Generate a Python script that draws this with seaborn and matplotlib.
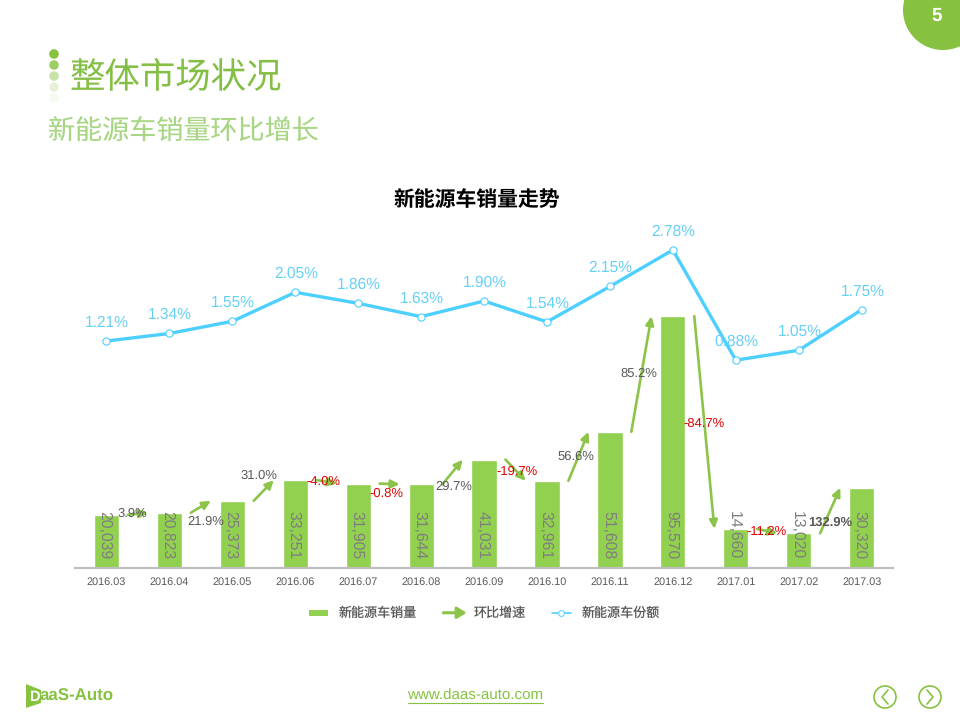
import matplotlib
matplotlib.use("Agg")
import matplotlib.pyplot as plt
import seaborn as sns
from matplotlib.patches import Circle, Ellipse, FancyArrowPatch, Patch, Polygon, Rectangle
from matplotlib.lines import Line2D
from matplotlib.legend_handler import HandlerPatch

months = ["2016.03", "2016.04", "2016.05", "2016.06", "2016.07", "2016.08", "2016.09",
          "2016.10", "2016.11", "2016.12", "2017.01", "2017.02", "2017.03"]
sales = [20039, 20823, 25373, 33251, 31905, 31644, 41031, 32961, 51608, 95570, 14660, 13020, 30320]
share = [1.21, 1.34, 1.55, 2.05, 1.86, 1.63, 1.90, 1.54, 2.15, 2.78, 0.88, 1.05, 1.75]
growth = ["3.9%", "21.9%", "31.0%", "-4.0%", "-0.8%", "29.7%", "-19.7%", "56.6%", "85.2%",
          "-84.7%", "-11.2%", "132.9%"]
growth_label_px = [(132, 514), (206, 522), (259, 476), (323, 482), (386, 494), (454, 487),
                   (517, 472), (576, 457), (639, 374), (704, 424), (767, 532), (830, 523)]

W, H = 960, 720
GREEN = "#92D050"
ARROW = "#8CC449"
BRAND = "#86C240"
BLUE = "#4DCFFF"
BLUE_TXT = "#66D0F5"
CJK = ["Noto Sans CJK SC", "DejaVu Sans"]
LATIN = ["Liberation Sans", "DejaVu Sans"]

sns.set_theme(style="white")
plt.rcParams["font.family"] = LATIN
plt.rcParams["text.hinting"] = "no_hinting"

fig = plt.figure(figsize=(W / 100, H / 100), dpi=100, facecolor="white")


def box(x0, y0, x1, y1):
    return [x0 / W, 1 - y1 / H, (x1 - x0) / W, (y1 - y0) / H]


# page furniture in pixel coordinates
page = fig.add_axes([0, 0, 1, 1], zorder=0)
page.set_xlim(0, W)
page.set_ylim(H, 0)
page.axis("off")
page.add_patch(Circle((943, 10), 40, color=BRAND, lw=0))
page.text(937, 16, "5", color="white", fontsize=13.5, fontweight="bold", ha="center", va="center")
for yy, a in zip([54, 65, 76, 87, 98], [1, .8, .45, .2, .08]):
    page.add_patch(Circle((54, yy), 4.8, color=BRAND, alpha=a, lw=0))
page.text(70, 77, "整体市场状况", color="#84BF45", fontsize=25.5, family=CJK, ha="left", va="center")
page.text(48, 132, "新能源车销量环比增长", color="#A8D684", fontsize=19.5, family=CJK, ha="left", va="center")
page.text(477, 200, "新能源车销量走势", color="black", fontsize=15, fontweight="bold", family=CJK,
          ha="center", va="center")

# footer
page.add_patch(Polygon([(26, 684), (41, 690), (41, 703), (26, 708)], color=BRAND, lw=0))
page.text(29.5, 697, "D", color="white", fontsize=10.5, fontweight="bold", ha="left", va="center")
page.text(39.5, 696.5, "aaS-Auto", color=BRAND, fontsize=12.2, fontweight="bold", ha="left", va="center")
page.text(475.5, 696, "www.daas-auto.com", color=BRAND, fontsize=10.9, ha="center", va="center")
page.plot([408, 543], [702.5, 702.5], color=BRAND, lw=0.8)
for cx, sgn in [(885, -1), (930, 1)]:
    page.add_patch(Ellipse((cx, 697), 22, 22, fc="none", ec=BRAND, lw=1.2))
    page.plot([cx - 3 * sgn, cx + 3 * sgn, cx - 3 * sgn], [690, 697, 704], color=BRAND, lw=1.2)

# chart
ax = fig.add_axes(box(75, 225.6, 892.5, 567.5), zorder=1)
ax.patch.set_alpha(0)
sns.barplot(x=months, y=sales, color=GREEN, saturation=1, width=0.4, ax=ax, zorder=2)
ax.set_xlim(-0.5, 12.49)
ax.set_ylim(0, 130000)
ax.set_yticks([])
ax.set_ylabel("")
sns.despine(ax=ax, left=True, top=True, right=True)
ax.spines["bottom"].set_color("#BFBFBF")
ax.spines["bottom"].set_linewidth(1.6)
ax.tick_params(axis="x", length=0, pad=6.5, labelsize=7.8, labelcolor="#595959")

for i, v in enumerate(sales):
    ax.annotate(f"{v:,}", xy=(i, 0), xytext=(-1.2, 6), textcoords="offset points", rotation=270,
                ha="center", va="bottom", fontsize=11.3, color="#7F7F7F", zorder=3)

# month-on-month arrows between bar tops
for i in range(len(sales) - 1):
    ax.add_patch(FancyArrowPatch((i + 0.34, sales[i]), (i + 0.66, sales[i + 1]),
                                 arrowstyle="-|>,head_length=5,head_width=2.4",
                                 mutation_scale=1, lw=1.9, color=ARROW, shrinkA=0, shrinkB=0, zorder=4))

# market share line
ax2 = ax.twinx()
ax2.patch.set_alpha(0)
sns.lineplot(x=months, y=share, color=BLUE, lw=2.4, marker="o", markersize=5.2,
             markerfacecolor="white", markeredgecolor=BLUE, markeredgewidth=0.8, ax=ax2, zorder=3)
ax2.set_ylim(-2.695, 3.2)
ax2.set_yticks([])
ax2.set_ylabel("")
for s in ax2.spines.values():
    s.set_visible(False)
for i, v in enumerate(share):
    ax2.annotate(f"{v:.2f}%", xy=(i, v), xytext=(0.5, 13.2), textcoords="offset points", ha="center",
                 va="center", fontsize=11.2, color=BLUE_TXT, zorder=5)

# growth labels
for txt, (px, py) in zip(growth, growth_label_px):
    red = txt.startswith("-")
    fig.text(px / W, 1 - py / H, txt, ha="center", va="center", fontsize=9.4,
             color="#E00000" if red else "#595959",
             fontweight="bold" if txt == "132.9%" else "normal", zorder=6)


# legend
class ArrowHandler(HandlerPatch):
    def create_artists(self, legend, orig, xd, yd, width, height, fontsize, trans):
        p = FancyArrowPatch((0, height / 2), (width + 3, height / 2),
                            arrowstyle="-|>,head_length=5.5,head_width=3.4", mutation_scale=1,
                            lw=2.2, color=ARROW, shrinkA=0, shrinkB=0)
        p.set_transform(trans)
        return [p]


class BarHandler(HandlerPatch):
    def create_artists(self, legend, orig, xd, yd, width, height, fontsize, trans):
        p = Rectangle((0, height / 2 - 2.2), width, 4.4, color=GREEN, lw=0)
        p.set_transform(trans)
        return [p]


bar_handle = Patch(color=GREEN)
arrow_handle = Patch(color=ARROW)
handles = [bar_handle, arrow_handle,
           Line2D([], [], color=BLUE, lw=1.2, marker="o", ms=4.2, mfc="white", mec=BLUE, mew=0.7)]
labels = ["新能源车销量", "环比增速", "新能源车份额"]
leg = ax2.legend(handles, labels, ncol=3, frameon=False, loc="center", bbox_to_anchor=(484.5, 613.5),
                 bbox_transform=page.transData, handlelength=1.46, handletextpad=0.84,
                 columnspacing=2.0, prop={"family": CJK, "size": 9.4}, labelcolor="#595959",
                 handler_map={arrow_handle: ArrowHandler(), bar_handle: BarHandler()})

fig.savefig("out.png", dpi=100, facecolor="white")
